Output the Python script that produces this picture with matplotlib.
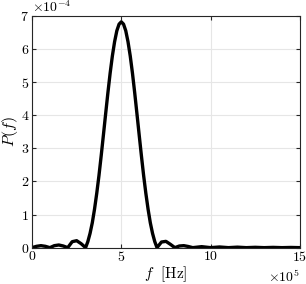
import numpy as np
import matplotlib
matplotlib.use("Agg")
import matplotlib.pyplot as plt
from matplotlib.ticker import ScalarFormatter

plt.rcParams['font.family'] = 'serif'
plt.rcParams['font.serif'] = ['cmr10']
plt.rcParams['mathtext.fontset'] = 'cm'
plt.rcParams['axes.formatter.use_mathtext'] = True
plt.rcParams['axes.unicode_minus'] = False

# frequency samples (x 1e5 Hz) and spectrum values (x 1e-4)
freq = [0.0, 0.25, 0.5, 0.75, 1.0, 1.25, 1.5, 1.75, 2.0, 2.25, 2.5, 2.75,
        3.0, 3.125, 3.25, 3.375, 3.5, 3.625, 3.75, 3.875, 4.0, 4.125, 4.25,
        4.375, 4.5, 4.625, 4.75, 4.875, 5.0, 5.125, 5.25, 5.375, 5.5, 5.625,
        5.75, 5.875, 6.0, 6.125, 6.25, 6.375, 6.5, 6.625, 6.75, 6.875, 7.0,
        7.25, 7.5, 7.75, 8.0, 8.25, 8.5, 8.75, 9.0, 9.5, 10.0, 10.5, 11.0,
        11.5, 12.0, 12.5, 13.0, 13.5, 14.0, 14.5, 15.0]
power = [0.0, 0.04, 0.06, 0.04, 0.0, 0.06, 0.08, 0.05, 0.0, 0.18, 0.21, 0.12,
         0.0, 0.18, 0.43, 0.75, 1.16, 1.64, 2.18, 2.78, 3.41, 4.05, 4.68,
         5.27, 5.79, 6.22, 6.55, 6.75, 6.82, 6.75, 6.55, 6.22, 5.79, 5.27,
         4.68, 4.05, 3.41, 2.78, 2.18, 1.64, 1.16, 0.75, 0.43, 0.18, 0.0,
         0.17, 0.19, 0.10, 0.0, 0.05, 0.06, 0.035, 0.0, 0.03, 0.0, 0.02, 0.0,
         0.015, 0.0, 0.01, 0.0, 0.008, 0.0, 0.006, 0.0]

f = np.array(freq) * 1e5
p = np.array(power) * 1e-4

fig = plt.figure(figsize=(3.06, 2.84), dpi=100)
ax = fig.add_axes([0.1046, 0.128, 0.8754, 0.8161])

ax.plot(f, p, color='black', lw=2.4, solid_joinstyle='round')

ax.set_xlim(0, 15e5)
ax.set_ylim(0, 7e-4)
ax.set_xticks([0, 5e5, 10e5, 15e5])
ax.set_yticks(np.arange(0, 8) * 1e-4)

xfmt = ScalarFormatter(useMathText=True)
xfmt.set_powerlimits((5, 5))
ax.xaxis.set_major_formatter(xfmt)
yfmt = ScalarFormatter(useMathText=True)
yfmt.set_powerlimits((-4, -4))
ax.yaxis.set_major_formatter(yfmt)

ax.grid(True, color='#e6e6e6', lw=0.8)
ax.set_axisbelow(True)
ax.tick_params(direction='in', top=True, right=True, labelsize=10,
               length=3, width=0.8, color='#262626', pad=2)
ax.xaxis.get_offset_text().set_fontsize(10)
ax.yaxis.get_offset_text().set_fontsize(10)
for s in ax.spines.values():
    s.set_color('#262626')
    s.set_linewidth(0.8)

ax.set_xlabel(r'$f\ \ \mathrm{[Hz]}$', fontsize=11, labelpad=0)
ax.set_ylabel(r'$\hat{P}(f)$', fontsize=11.5)
ax.yaxis.set_label_coords(-0.042, 0.5)

fig.savefig('out.png', dpi=100)
